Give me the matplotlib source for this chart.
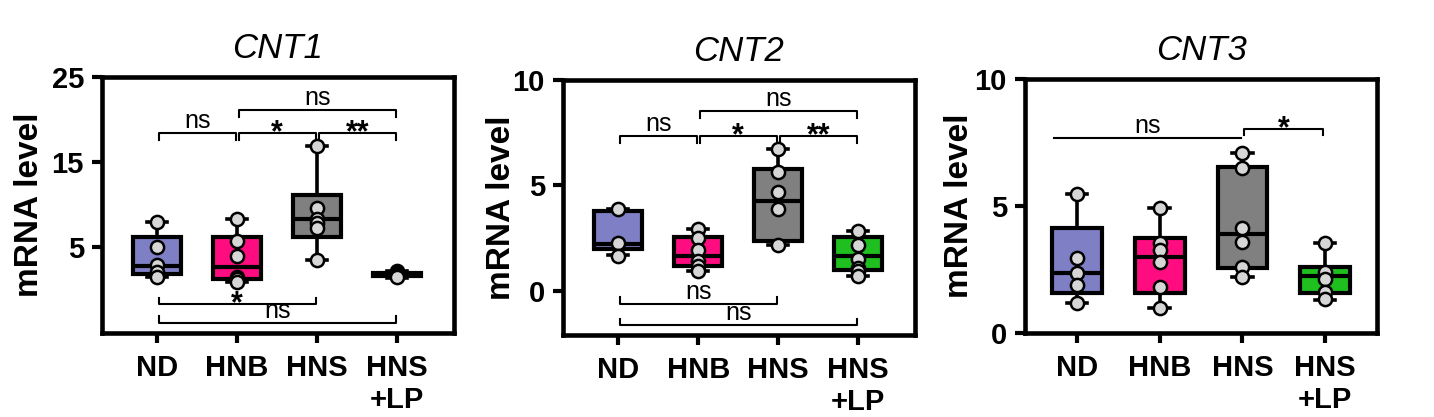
import matplotlib
matplotlib.use("Agg")
import matplotlib.pyplot as plt

plt.rcParams['font.family'] = ['Liberation Sans', 'DejaVu Sans']

# groups and colours
groups = ['ND', 'HNB', 'HNS', 'HNS\n+LP']
box_colors = ['#7f7fc6', '#ff0d80', '#808080', '#1fbf1f']

# box stats per group: (whislo, q1, med, q3, whishi)
cnt1_box = [(1.5, 1.8, 2.75, 6.2, 7.9),
            (0.9, 1.3, 2.7, 6.2, 8.25),
            (3.5, 6.2, 8.25, 11.1, 16.9),
            (1.4, 1.55, 1.75, 1.95, 2.2)]
cnt1_points = [[7.9, 5.0, 2.9, 2.1, 1.5],
               [8.25, 5.75, 3.9, 1.5, 1.3, 0.9],
               [16.9, 9.55, 8.3, 7.8, 7.2, 3.5],
               [2.2, 1.95, 1.75, 1.6, 1.45]]

cnt2_box = [(1.7, 2.0, 2.22, 3.8, 3.9),
            (0.92, 1.16, 1.67, 2.56, 2.94),
            (2.19, 2.35, 4.25, 5.79, 6.71),
            (0.71, 1.0, 1.67, 2.56, 2.83)]
cnt2_points = [[3.9, 2.27, 1.67],
               [2.94, 2.5, 1.95, 1.4, 1.16, 0.95],
               [6.71, 5.63, 4.68, 3.86, 2.19],
               [2.83, 2.19, 1.51, 1.08, 0.92, 0.71]]

cnt3_box = [(1.17, 1.56, 2.35, 4.12, 5.46),
            (0.97, 1.59, 3.0, 3.75, 4.91),
            (2.22, 2.55, 3.88, 6.55, 7.07),
            (1.3, 1.56, 2.24, 2.61, 3.56)]
cnt3_points = [[5.46, 2.94, 2.35, 1.89, 1.17],
               [4.91, 3.53, 3.27, 2.81, 1.8, 0.97],
               [7.07, 6.48, 4.12, 3.6, 2.61, 2.22],
               [3.56, 2.41, 2.11, 1.63, 1.33]]

# significance brackets: (x1, x2, y, label, leg direction)
cnt1_sig = [(0, 1, 18.4, 'ns', -1), (1, 2, 18.4, '*', -1), (2, 3, 18.4, '**', -1),
            (1, 3, 21.1, 'ns', -1), (0, 2, -1.7, '*', 1), (0, 3, -3.9, 'ns', 1)]
cnt2_sig = [(0, 1, 7.33, 'ns', -1), (1, 2, 7.33, '*', -1), (2, 3, 7.33, '**', -1),
            (1, 3, 8.52, 'ns', -1), (0, 2, -0.62, 'ns', 1), (0, 3, -1.62, 'ns', 1)]
cnt3_sig = [(-0.3, 2, 7.68, 'ns', 0), (2, 3, 8.05, '*', -1)]

panels = [
    ('CNT1', cnt1_box, cnt1_points, cnt1_sig, (-5.1, 25), [5, 15, 25],
     [0.0711, 0.2014, 0.2455, 0.614], (-0.69, 3.71), -0.205),
    ('CNT2', cnt2_box, cnt2_points, cnt2_sig, (-2.1, 10), [0, 5, 10],
     [0.3926, 0.1966, 0.2455, 0.6115], (-0.69, 3.71), -0.176),
    ('CNT3', cnt3_box, cnt3_points, cnt3_sig, (0, 10), [0, 5, 10],
     [0.7148, 0.2014, 0.2455, 0.609], (-0.63, 3.63), -0.185),
]

fig = plt.figure(figsize=(14.34, 4.17), dpi=100)

for title, boxes, points, sigs, ylim, yticks, rect, xlim, ylab_x in panels:
    ax = fig.add_axes(rect)
    stats = []
    for b in boxes:
        stats.append(dict(whislo=b[0], q1=b[1], med=b[2], q3=b[3], whishi=b[4], fliers=[]))
    pos = list(range(len(groups)))
    bp = ax.bxp(stats, positions=pos, widths=0.6, capwidths=0.25,
                patch_artist=True, showfliers=False,
                boxprops=dict(linewidth=3.0, edgecolor='black'),
                medianprops=dict(linewidth=3.0, color='black'),
                whiskerprops=dict(linewidth=2.6, color='black'),
                capprops=dict(linewidth=2.6, color='black'))
    for patch, c in zip(bp['boxes'], box_colors):
        patch.set_facecolor(c)
    for i, pts in enumerate(points):
        ax.plot([i] * len(pts), pts, 'o', ms=9.5, mfc='#d6d6d6', mec='black',
                mew=1.8, zorder=4)

    # brackets
    for x1, x2, y, lab, leg in sigs:
        leg_h = (ylim[1] - ylim[0]) * 0.025
        a, b = x1 + 0.02, x2 - 0.02
        if leg == 0:
            ax.plot([a, b], [y, y], color='black', lw=1.5)
        else:
            ax.plot([a, a, b, b], [y + leg * leg_h, y, y, y + leg * leg_h],
                    color='black', lw=1.5)
        xm = (x1 + x2) / 2
        if 'ns' in lab:
            ax.annotate(lab, (xm, y), xytext=(0, 0), textcoords='offset points',
                        ha='center', va='bottom', fontsize=18)
        else:
            ax.annotate(lab, (xm, y), xytext=(0, -6), textcoords='offset points',
                        ha='center', va='baseline', fontsize=22, fontweight='bold')

    ax.set_xlim(*xlim)
    ax.set_ylim(*ylim)
    ax.set_yticks(yticks)
    ax.set_xticks(pos)
    ax.set_xticklabels(groups, fontsize=21, fontweight='bold')
    for t in ax.get_yticklabels():
        t.set_fontsize(21)
        t.set_fontweight('bold')
    ax.tick_params(width=3, length=7, pad=6)
    ax.tick_params(axis='x', pad=8)
    for s in ax.spines.values():
        s.set_linewidth(3.3)
    ax.set_ylabel('mRNA level', fontsize=24, fontweight='bold', va='center')
    ax.yaxis.set_label_coords(ylab_x, 0.5)
    ax.set_title(title, fontsize=25, style='italic', pad=14)

fig.savefig('out.png', dpi=100)
